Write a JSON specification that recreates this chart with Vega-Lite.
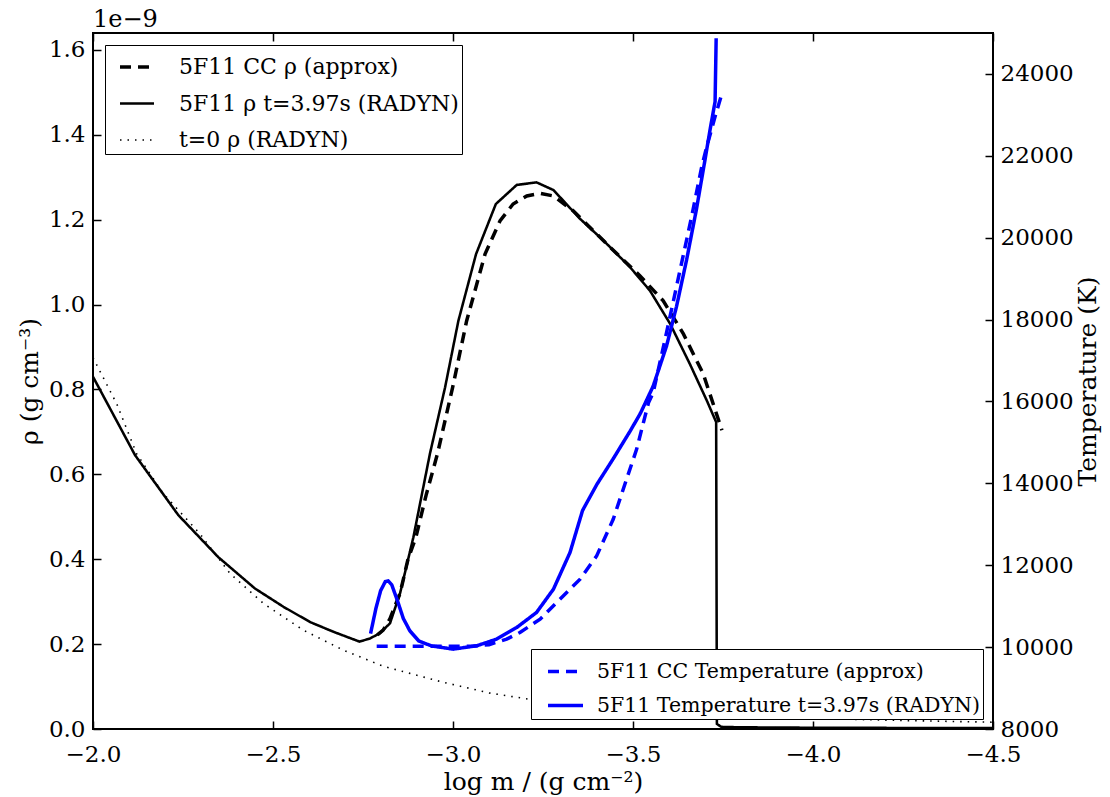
{
  "$schema": "https://vega.github.io/schema/vega-lite/v6.json",
  "autosize": {"type": "none"},
  "padding": {"left": 93, "top": 33, "right": 117, "bottom": 68},
  "width": 900,
  "height": 696,
  "background": "white",
  "title": {"text": "1e−9", "anchor": "start", "frame": "group", "fontSize": 24, "font": "DejaVu Serif", "fontWeight": "normal", "color": "black", "baseline": "alphabetic", "offset": 6, "dy": 25},
  "datasets": {
    "rho": [
      {"logm": -2.0, "rho": 0.83, "series": "5F11 ρ t=3.97s (RADYN)"},
      {"logm": -2.117, "rho": 0.645, "series": "5F11 ρ t=3.97s (RADYN)"},
      {"logm": -2.237, "rho": 0.504, "series": "5F11 ρ t=3.97s (RADYN)"},
      {"logm": -2.348, "rho": 0.405, "series": "5F11 ρ t=3.97s (RADYN)"},
      {"logm": -2.45, "rho": 0.331, "series": "5F11 ρ t=3.97s (RADYN)"},
      {"logm": -2.529, "rho": 0.288, "series": "5F11 ρ t=3.97s (RADYN)"},
      {"logm": -2.603, "rho": 0.252, "series": "5F11 ρ t=3.97s (RADYN)"},
      {"logm": -2.668, "rho": 0.229, "series": "5F11 ρ t=3.97s (RADYN)"},
      {"logm": -2.74, "rho": 0.206, "series": "5F11 ρ t=3.97s (RADYN)"},
      {"logm": -2.769, "rho": 0.213, "series": "5F11 ρ t=3.97s (RADYN)"},
      {"logm": -2.797, "rho": 0.226, "series": "5F11 ρ t=3.97s (RADYN)"},
      {"logm": -2.825, "rho": 0.249, "series": "5F11 ρ t=3.97s (RADYN)"},
      {"logm": -2.853, "rho": 0.32, "series": "5F11 ρ t=3.97s (RADYN)"},
      {"logm": -2.89, "rho": 0.452, "series": "5F11 ρ t=3.97s (RADYN)"},
      {"logm": -2.936, "rho": 0.649, "series": "5F11 ρ t=3.97s (RADYN)"},
      {"logm": -2.978, "rho": 0.805, "series": "5F11 ρ t=3.97s (RADYN)"},
      {"logm": -3.015, "rho": 0.962, "series": "5F11 ρ t=3.97s (RADYN)"},
      {"logm": -3.064, "rho": 1.119, "series": "5F11 ρ t=3.97s (RADYN)"},
      {"logm": -3.119, "rho": 1.237, "series": "5F11 ρ t=3.97s (RADYN)"},
      {"logm": -3.177, "rho": 1.282, "series": "5F11 ρ t=3.97s (RADYN)"},
      {"logm": -3.232, "rho": 1.288, "series": "5F11 ρ t=3.97s (RADYN)"},
      {"logm": -3.279, "rho": 1.27, "series": "5F11 ρ t=3.97s (RADYN)"},
      {"logm": -3.353, "rho": 1.202, "series": "5F11 ρ t=3.97s (RADYN)"},
      {"logm": -3.418, "rho": 1.151, "series": "5F11 ρ t=3.97s (RADYN)"},
      {"logm": -3.492, "rho": 1.088, "series": "5F11 ρ t=3.97s (RADYN)"},
      {"logm": -3.547, "rho": 1.033, "series": "5F11 ρ t=3.97s (RADYN)"},
      {"logm": -3.603, "rho": 0.955, "series": "5F11 ρ t=3.97s (RADYN)"},
      {"logm": -3.658, "rho": 0.86, "series": "5F11 ρ t=3.97s (RADYN)"},
      {"logm": -3.705, "rho": 0.774, "series": "5F11 ρ t=3.97s (RADYN)"},
      {"logm": -3.731, "rho": 0.723, "series": "5F11 ρ t=3.97s (RADYN)"},
      {"logm": -3.733, "rho": 0.012, "series": "5F11 ρ t=3.97s (RADYN)"},
      {"logm": -3.745, "rho": 0.005, "series": "5F11 ρ t=3.97s (RADYN)"},
      {"logm": -3.8, "rho": 0.004, "series": "5F11 ρ t=3.97s (RADYN)"},
      {"logm": -4.0, "rho": 0.003, "series": "5F11 ρ t=3.97s (RADYN)"},
      {"logm": -4.5, "rho": 0.002, "series": "5F11 ρ t=3.97s (RADYN)"},

      {"logm": -2.79, "rho": 0.222, "series": "5F11 CC ρ (approx)"},
      {"logm": -2.806, "rho": 0.233, "series": "5F11 CC ρ (approx)"},
      {"logm": -2.825, "rho": 0.26, "series": "5F11 CC ρ (approx)"},
      {"logm": -2.853, "rho": 0.32, "series": "5F11 CC ρ (approx)"},
      {"logm": -2.875, "rho": 0.4, "series": "5F11 CC ρ (approx)"},
      {"logm": -2.897, "rho": 0.452, "series": "5F11 CC ρ (approx)"},
      {"logm": -2.925, "rho": 0.55, "series": "5F11 CC ρ (approx)"},
      {"logm": -2.957, "rho": 0.649, "series": "5F11 CC ρ (approx)"},
      {"logm": -2.999, "rho": 0.805, "series": "5F11 CC ρ (approx)"},
      {"logm": -3.038, "rho": 0.962, "series": "5F11 CC ρ (approx)"},
      {"logm": -3.089, "rho": 1.119, "series": "5F11 CC ρ (approx)"},
      {"logm": -3.131, "rho": 1.198, "series": "5F11 CC ρ (approx)"},
      {"logm": -3.167, "rho": 1.237, "series": "5F11 CC ρ (approx)"},
      {"logm": -3.205, "rho": 1.256, "series": "5F11 CC ρ (approx)"},
      {"logm": -3.242, "rho": 1.262, "series": "5F11 CC ρ (approx)"},
      {"logm": -3.279, "rho": 1.256, "series": "5F11 CC ρ (approx)"},
      {"logm": -3.334, "rho": 1.221, "series": "5F11 CC ρ (approx)"},
      {"logm": -3.427, "rho": 1.143, "series": "5F11 CC ρ (approx)"},
      {"logm": -3.519, "rho": 1.068, "series": "5F11 CC ρ (approx)"},
      {"logm": -3.584, "rho": 1.009, "series": "5F11 CC ρ (approx)"},
      {"logm": -3.64, "rho": 0.931, "series": "5F11 CC ρ (approx)"},
      {"logm": -3.695, "rho": 0.837, "series": "5F11 CC ρ (approx)"},
      {"logm": -3.747, "rho": 0.704, "series": "5F11 CC ρ (approx)"},

      {"logm": -2.0, "rho": 0.875, "series": "t=0 ρ (RADYN)"},
      {"logm": -2.066, "rho": 0.766, "series": "t=0 ρ (RADYN)"},
      {"logm": -2.121, "rho": 0.649, "series": "t=0 ρ (RADYN)"},
      {"logm": -2.195, "rho": 0.555, "series": "t=0 ρ (RADYN)"},
      {"logm": -2.297, "rho": 0.46, "series": "t=0 ρ (RADYN)"},
      {"logm": -2.381, "rho": 0.366, "series": "t=0 ρ (RADYN)"},
      {"logm": -2.473, "rho": 0.296, "series": "t=0 ρ (RADYN)"},
      {"logm": -2.584, "rho": 0.233, "series": "t=0 ρ (RADYN)"},
      {"logm": -2.695, "rho": 0.186, "series": "t=0 ρ (RADYN)"},
      {"logm": -2.806, "rho": 0.148, "series": "t=0 ρ (RADYN)"},
      {"logm": -2.964, "rho": 0.112, "series": "t=0 ρ (RADYN)"},
      {"logm": -3.1, "rho": 0.085, "series": "t=0 ρ (RADYN)"},
      {"logm": -3.25, "rho": 0.065, "series": "t=0 ρ (RADYN)"},
      {"logm": -3.5, "rho": 0.045, "series": "t=0 ρ (RADYN)"},
      {"logm": -3.75, "rho": 0.033, "series": "t=0 ρ (RADYN)"},
      {"logm": -4.0, "rho": 0.025, "series": "t=0 ρ (RADYN)"},
      {"logm": -4.25, "rho": 0.02, "series": "t=0 ρ (RADYN)"},
      {"logm": -4.5, "rho": 0.016, "series": "t=0 ρ (RADYN)"}
    ],
    "temp": [
      {"logm": -2.788, "T": 10020, "series": "5F11 CC Temperature (approx)"},
      {"logm": -3.05, "T": 10020, "series": "5F11 CC Temperature (approx)"},
      {"logm": -3.1, "T": 10060, "series": "5F11 CC Temperature (approx)"},
      {"logm": -3.149, "T": 10195, "series": "5F11 CC Temperature (approx)"},
      {"logm": -3.186, "T": 10358, "series": "5F11 CC Temperature (approx)"},
      {"logm": -3.242, "T": 10683, "series": "5F11 CC Temperature (approx)"},
      {"logm": -3.297, "T": 11171, "series": "5F11 CC Temperature (approx)"},
      {"logm": -3.353, "T": 11659, "series": "5F11 CC Temperature (approx)"},
      {"logm": -3.399, "T": 12227, "series": "5F11 CC Temperature (approx)"},
      {"logm": -3.445, "T": 13122, "series": "5F11 CC Temperature (approx)"},
      {"logm": -3.482, "T": 14098, "series": "5F11 CC Temperature (approx)"},
      {"logm": -3.51, "T": 14830, "series": "5F11 CC Temperature (approx)"},
      {"logm": -3.543, "T": 15968, "series": "5F11 CC Temperature (approx)"},
      {"logm": -3.556, "T": 16212, "series": "5F11 CC Temperature (approx)"},
      {"logm": -3.593, "T": 17675, "series": "5F11 CC Temperature (approx)"},
      {"logm": -3.631, "T": 19219, "series": "5F11 CC Temperature (approx)"},
      {"logm": -3.663, "T": 20520, "series": "5F11 CC Temperature (approx)"},
      {"logm": -3.691, "T": 21739, "series": "5F11 CC Temperature (approx)"},
      {"logm": -3.705, "T": 22227, "series": "5F11 CC Temperature (approx)"},
      {"logm": -3.728, "T": 22960, "series": "5F11 CC Temperature (approx)"},
      {"logm": -3.746, "T": 23488, "series": "5F11 CC Temperature (approx)"},

      {"logm": -2.771, "T": 10330, "series": "5F11 Temperature t=3.97s (RADYN)"},
      {"logm": -2.786, "T": 10950, "series": "5F11 Temperature t=3.97s (RADYN)"},
      {"logm": -2.799, "T": 11380, "series": "5F11 Temperature t=3.97s (RADYN)"},
      {"logm": -2.812, "T": 11600, "series": "5F11 Temperature t=3.97s (RADYN)"},
      {"logm": -2.82, "T": 11617, "series": "5F11 Temperature t=3.97s (RADYN)"},
      {"logm": -2.83, "T": 11520, "series": "5F11 Temperature t=3.97s (RADYN)"},
      {"logm": -2.847, "T": 11100, "series": "5F11 Temperature t=3.97s (RADYN)"},
      {"logm": -2.862, "T": 10700, "series": "5F11 Temperature t=3.97s (RADYN)"},
      {"logm": -2.88, "T": 10400, "series": "5F11 Temperature t=3.97s (RADYN)"},
      {"logm": -2.905, "T": 10150, "series": "5F11 Temperature t=3.97s (RADYN)"},
      {"logm": -2.94, "T": 10030, "series": "5F11 Temperature t=3.97s (RADYN)"},
      {"logm": -3.0, "T": 9951, "series": "5F11 Temperature t=3.97s (RADYN)"},
      {"logm": -3.066, "T": 10032, "series": "5F11 Temperature t=3.97s (RADYN)"},
      {"logm": -3.121, "T": 10195, "series": "5F11 Temperature t=3.97s (RADYN)"},
      {"logm": -3.177, "T": 10480, "series": "5F11 Temperature t=3.97s (RADYN)"},
      {"logm": -3.232, "T": 10846, "series": "5F11 Temperature t=3.97s (RADYN)"},
      {"logm": -3.279, "T": 11415, "series": "5F11 Temperature t=3.97s (RADYN)"},
      {"logm": -3.325, "T": 12310, "series": "5F11 Temperature t=3.97s (RADYN)"},
      {"logm": -3.36, "T": 13340, "series": "5F11 Temperature t=3.97s (RADYN)"},
      {"logm": -3.4, "T": 13980, "series": "5F11 Temperature t=3.97s (RADYN)"},
      {"logm": -3.445, "T": 14600, "series": "5F11 Temperature t=3.97s (RADYN)"},
      {"logm": -3.492, "T": 15276, "series": "5F11 Temperature t=3.97s (RADYN)"},
      {"logm": -3.52, "T": 15700, "series": "5F11 Temperature t=3.97s (RADYN)"},
      {"logm": -3.556, "T": 16373, "series": "5F11 Temperature t=3.97s (RADYN)"},
      {"logm": -3.593, "T": 17349, "series": "5F11 Temperature t=3.97s (RADYN)"},
      {"logm": -3.621, "T": 18324, "series": "5F11 Temperature t=3.97s (RADYN)"},
      {"logm": -3.649, "T": 19463, "series": "5F11 Temperature t=3.97s (RADYN)"},
      {"logm": -3.676, "T": 20683, "series": "5F11 Temperature t=3.97s (RADYN)"},
      {"logm": -3.7, "T": 21902, "series": "5F11 Temperature t=3.97s (RADYN)"},
      {"logm": -3.714, "T": 22634, "series": "5F11 Temperature t=3.97s (RADYN)"},
      {"logm": -3.728, "T": 23324, "series": "5F11 Temperature t=3.97s (RADYN)"},
      {"logm": -3.731, "T": 24870, "series": "5F11 Temperature t=3.97s (RADYN)"}
    ]
  },
  "layer": [
    {
      "data": {"name": "rho"},
      "mark": {"type": "line", "clip": true, "strokeCap": "butt"},
      "encoding": {
        "x": {"field": "logm", "type": "quantitative",
          "scale": {"domain": [-4.5, -2.0], "reverse": true, "nice": false, "zero": false},
          "axis": {"orient": "bottom", "values": [-2, -2.5, -3, -3.5, -4, -4.5], "format": ".1f", "labelFlush": false, "title": "log m / (g cm⁻²)", "labelPadding": 22, "titleX": 450, "titleY": 52, "titleBaseline": "middle", "titleAnchor": "middle", "titleAlign": "center"}},
        "y": {"field": "rho", "type": "quantitative",
          "scale": {"domain": [0, 1.64], "nice": false, "zero": false},
          "axis": {"orient": "left", "values": [0, 0.2, 0.4, 0.6, 0.8, 1.0, 1.2, 1.4, 1.6], "format": ".1f", "labelFlush": false, "title": "ρ (g cm⁻³)", "labelPadding": 16, "titleAngle": 270, "titleX": -64, "titleY": 348, "titleBaseline": "middle", "titleAlign": "center"}},
        "color": {"field": "series", "type": "nominal",
          "scale": {"domain": ["5F11 CC ρ (approx)", "5F11 ρ t=3.97s (RADYN)", "t=0 ρ (RADYN)"], "range": ["black", "black", "black"]},
          "legend": {"orient": "top-left", "offset": 12, "title": null, "symbolSize": 1156, "symbolOffset": 10, "rowPadding": 7, "padding": 3, "labelOffset": 23, "labelFontSize": 22}},
        "strokeDash": {"field": "series", "type": "nominal",
          "scale": {"domain": ["5F11 CC ρ (approx)", "5F11 ρ t=3.97s (RADYN)", "t=0 ρ (RADYN)"], "range": [[11, 7], [1, 0], [1.5, 6]]},
          "legend": {"orient": "top-left", "offset": 12, "title": null, "symbolSize": 1156, "symbolOffset": 10, "rowPadding": 7, "padding": 3, "labelOffset": 23, "labelFontSize": 22}},
        "strokeWidth": {"field": "series", "type": "nominal",
          "scale": {"domain": ["5F11 CC ρ (approx)", "5F11 ρ t=3.97s (RADYN)", "t=0 ρ (RADYN)"], "range": [3.5, 1.6, 1.6]},
          "legend": {"orient": "top-left", "offset": 12, "title": null, "symbolSize": 1156, "symbolOffset": 10, "rowPadding": 7, "padding": 3, "labelOffset": 23, "labelFontSize": 22}}
      }
    },
    {
      "data": {"name": "temp"},
      "mark": {"type": "line", "clip": true, "strokeCap": "butt"},
      "encoding": {
        "x": {"field": "logm", "type": "quantitative",
          "scale": {"domain": [-4.5, -2.0], "reverse": true, "nice": false, "zero": false},
          "axis": {"orient": "top", "values": [-2, -2.5, -3, -3.5, -4, -4.5], "labels": false, "title": null}},
        "y": {"field": "T", "type": "quantitative",
          "scale": {"domain": [8000, 25000], "nice": false, "zero": false},
          "axis": {"orient": "right", "values": [8000, 10000, 12000, 14000, 16000, 18000, 20000, 22000, 24000], "format": "d", "labelFlush": false, "title": "Temperature (K)", "labelPadding": 15, "titleAngle": 270, "titleX": 94, "titleY": 348, "titleBaseline": "middle", "titleAlign": "center"}},
        "color": {"field": "series", "type": "nominal",
          "scale": {"domain": ["5F11 CC Temperature (approx)", "5F11 Temperature t=3.97s (RADYN)"], "range": ["#0000ff", "#0000ff"]},
          "legend": {"orient": "bottom-right", "offset": 10, "title": null, "symbolSize": 1225, "symbolOffset": 12, "rowPadding": 4, "padding": 3, "labelOffset": 12, "labelFontSize": 20.5}},
        "strokeDash": {"field": "series", "type": "nominal",
          "scale": {"domain": ["5F11 CC Temperature (approx)", "5F11 Temperature t=3.97s (RADYN)"], "range": [[11, 7], [1, 0]]},
          "legend": {"orient": "bottom-right", "offset": 10, "title": null, "symbolSize": 1225, "symbolOffset": 12, "rowPadding": 4, "padding": 3, "labelOffset": 12, "labelFontSize": 20.5}},
        "strokeWidth": {"field": "series", "type": "nominal",
          "scale": {"domain": ["5F11 CC Temperature (approx)", "5F11 Temperature t=3.97s (RADYN)"], "range": [3.5, 3.5]},
          "legend": {"orient": "bottom-right", "offset": 10, "title": null, "symbolSize": 1225, "symbolOffset": 12, "rowPadding": 4, "padding": 3, "labelOffset": 12, "labelFontSize": 20.5}}
      }
    }
  ],
  "resolve": {
    "scale": {"y": "independent", "color": "independent", "strokeDash": "independent", "strokeWidth": "independent"},
    "axis": {"x": "independent", "y": "independent"},
    "legend": {"color": "independent", "strokeDash": "independent", "strokeWidth": "independent"}
  },
  "config": {
    "font": "DejaVu Serif",
    "view": {"stroke": "black", "strokeWidth": 2},
    "axis": {"domain": false, "grid": false, "ticks": true, "tickColor": "black", "tickSize": -8, "tickWidth": 1.5,
      "labelFont": "DejaVu Serif", "labelFontSize": 23, "labelColor": "black",
      "titleFont": "DejaVu Serif", "titleFontSize": 25, "titleFontWeight": "normal", "titleColor": "black"},
    "legend": {"strokeColor": "black", "fillColor": "white", "labelFont": "DejaVu Serif", "labelColor": "black", "symbolType": "stroke", "labelLimit": 600}
  }
}
